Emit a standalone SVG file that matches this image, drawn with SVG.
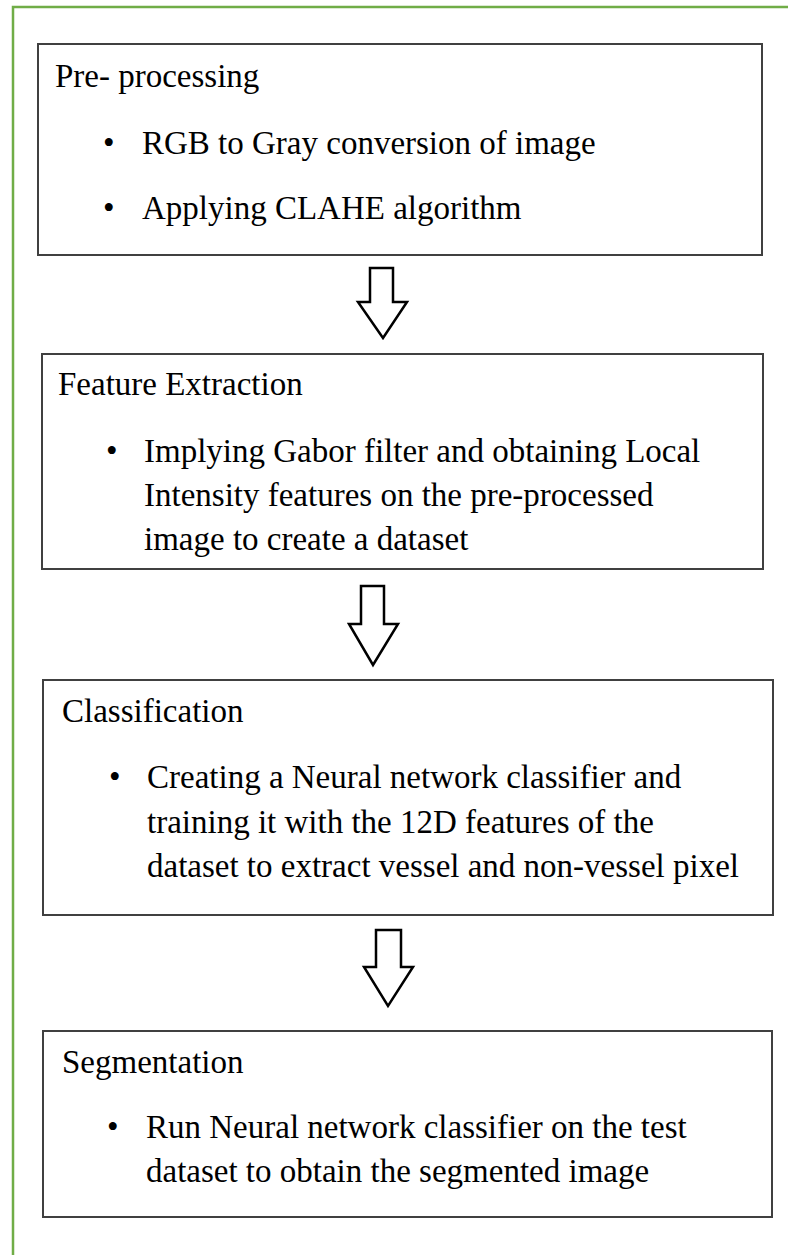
<svg xmlns="http://www.w3.org/2000/svg" width="788" height="1255" viewBox="0 0 788 1255">
<style>
.frame{fill:none;stroke:#70ad47;stroke-width:2.5}
.box{fill:#ffffff;stroke:#404040;stroke-width:2}
.arrow{fill:#ffffff;stroke:#000000;stroke-width:2.5;stroke-linejoin:miter}
.t{font-family:'Liberation Serif','Times New Roman',Times,serif;font-size:33px;fill:#000000}
</style>
<rect width="788" height="1255" fill="#ffffff"/>
<rect class="frame" x="13" y="7" width="800" height="1300"/>
<g id="preprocessing" class="t" font-family="Liberation Serif, serif">
<rect class="box" x="38" y="44" width="724" height="211"/>
<text x="55" y="87">Pre- processing</text>
<text x="103" y="154">•</text>
<text x="142" y="154">RGB to Gray conversion of image</text>
<text x="103" y="219">•</text>
<text x="142" y="219">Applying CLAHE algorithm</text>
</g>
<g id="feature-extraction" class="t" font-family="Liberation Serif, serif">
<rect class="box" x="42" y="354" width="721" height="215"/>
<text x="58" y="395">Feature Extraction</text>
<text x="106" y="462">•</text>
<text x="144" y="462">Implying Gabor filter and obtaining Local</text>
<text x="144" y="506">Intensity features on the pre-processed</text>
<text x="144" y="550">image to create a dataset</text>
</g>
<g id="classification" class="t" font-family="Liberation Serif, serif">
<rect class="box" x="43" y="680" width="730" height="235"/>
<text x="62" y="722">Classification</text>
<text x="109" y="788">•</text>
<text x="147" y="788">Creating a Neural network classifier and</text>
<text x="147" y="833">training it with the 12D features of the</text>
<text x="147" y="877">dataset to extract vessel and non-vessel pixel</text>
</g>
<g id="segmentation" class="t" font-family="Liberation Serif, serif">
<rect class="box" x="43" y="1031" width="729" height="186"/>
<text x="62" y="1073">Segmentation</text>
<text x="107" y="1138">•</text>
<text x="146" y="1138">Run Neural network classifier on the test</text>
<text x="146" y="1182">dataset to obtain the segmented image</text>
</g>
<g id="connectors">
<polygon class="arrow" points="370,268 393,268 393,302 407,302 383,338 358,302 370,302"/>
<polygon class="arrow" points="361,586 384,586 384,624 398,624 373,665 349,624 361,624"/>
<polygon class="arrow" points="376,930 401,930 401,967 413,967 388,1006 364,967 376,967"/>
</g>
</svg>
